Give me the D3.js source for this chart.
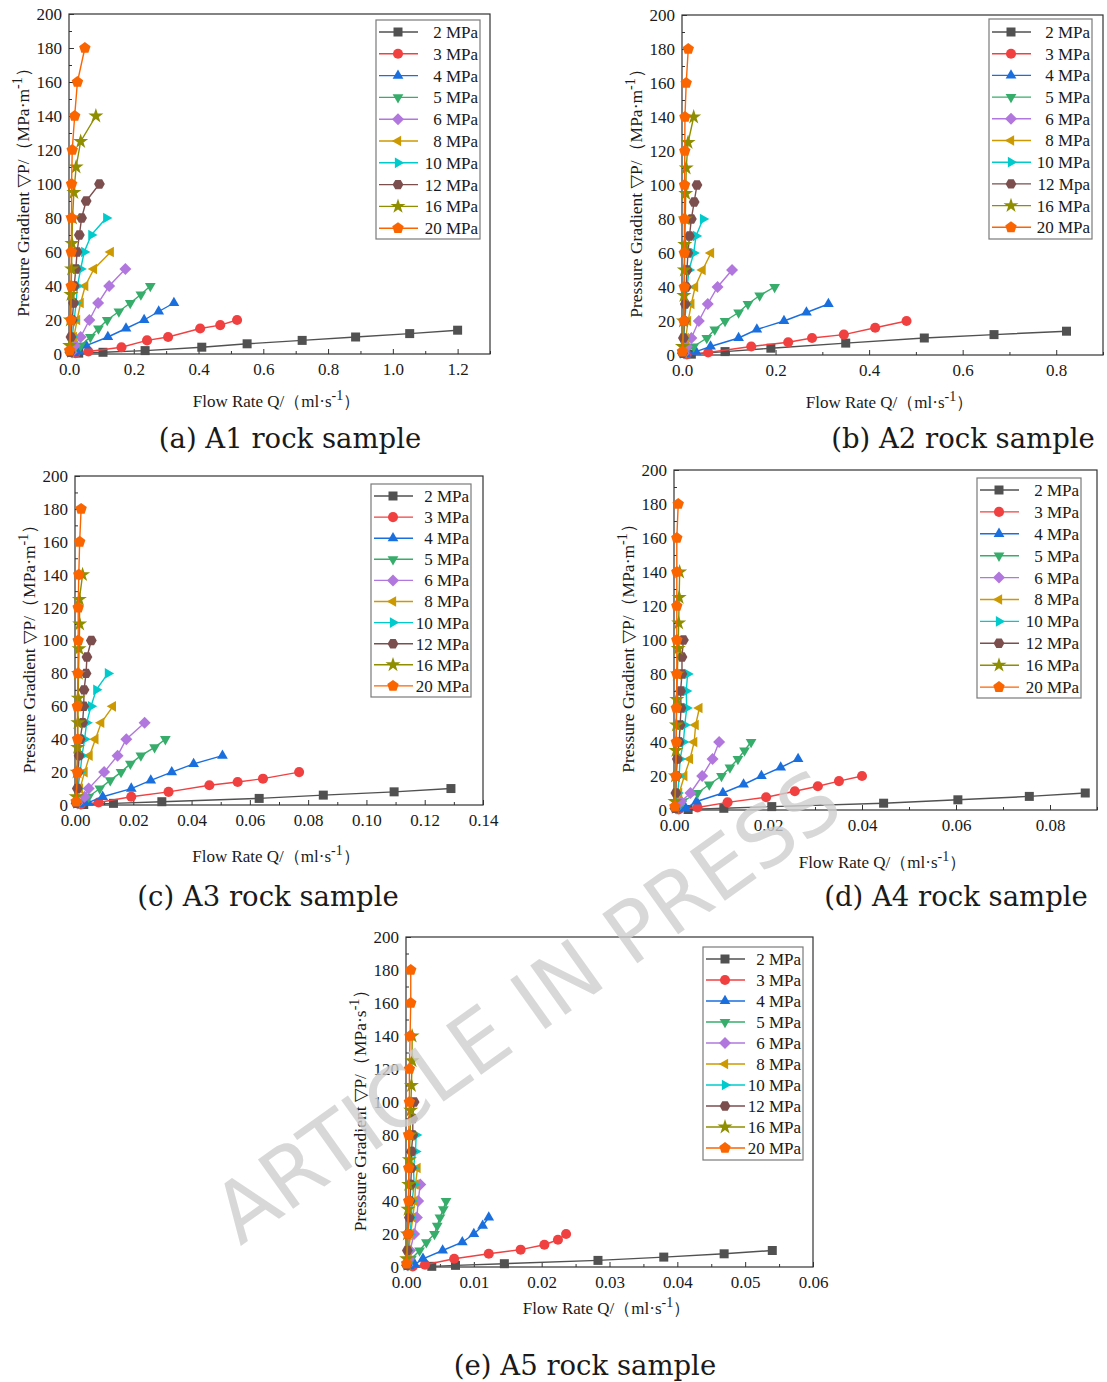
<!DOCTYPE html>
<html>
<head>
<meta charset="utf-8">
<script src="https://cdn.jsdelivr.net/npm/d3@7"></script>
<style>
  body { margin: 0; background: #fff; }
  svg { display: block; }
</style>
</head>
<body>
<svg id="fig" width="1107" height="1382"></svg>
<script>
// ---- series labels, colours, marker shapes ----
const pressureLabels = ["2 MPa", "3 MPa", "4 MPa", "5 MPa", "6 MPa", "8 MPa", "10 MPa", "12 MPa", "16 MPa", "20 MPa"];
const pressureLabelsA2 = ["2 MPa", "3 MPa", "4 MPa", "5 MPa", "6 MPa", "8 MPa", "10 MPa", "12 Mpa", "16 MPa", "20 MPa"];
const seriesColors = ["#515151", "#f14040", "#1a6fdf", "#37ad6b", "#b177de", "#cc9900", "#00cbcc", "#7d4e4e", "#8e8e00", "#fb6501"];
const markerShapes = ["square", "circle", "up", "down", "diamond", "left", "right", "hexagon", "star", "pentagon"];

// ---- tick values ----
const gradTicks = [0, 20, 40, 60, 80, 100, 120, 140, 160, 180, 200];
const flowTicksA1 = [0, 0.2, 0.4, 0.6, 0.8, 1.0, 1.2];
const flowTicksA2 = [0, 0.2, 0.4, 0.6, 0.8];
const flowTicksA3 = [0, 0.02, 0.04, 0.06, 0.08, 0.10, 0.12, 0.14];
const flowTicksA4 = [0, 0.02, 0.04, 0.06, 0.08];
const flowTicksA5 = [0, 0.01, 0.02, 0.03, 0.04, 0.05, 0.06];

// ---- A1 rock sample: flow rate Q (ml/s) and pressure gradient per confining pressure ----
const a1Flow = [
  [0.03, 0.105, 0.235, 0.41, 0.55, 0.72, 0.885, 1.052, 1.2],
  [0.02, 0.06, 0.162, 0.241, 0.306, 0.405, 0.467, 0.519],
  [0.015, 0.03, 0.053, 0.12, 0.176, 0.232, 0.277, 0.324],
  [0.01, 0.036, 0.066, 0.091, 0.118, 0.154, 0.189, 0.222, 0.251],
  [0.008, 0.018, 0.036, 0.063, 0.09, 0.124, 0.174],
  [0.005, 0.015, 0.025, 0.036, 0.05, 0.077, 0.129],
  [0.004, 0.01, 0.016, 0.022, 0.026, 0.036, 0.047, 0.069, 0.115],
  [0.003, 0.006, 0.01, 0.014, 0.016, 0.021, 0.025, 0.032, 0.039, 0.053, 0.094],
  [0.002, 0.004, 0.006, 0.008, 0.009, 0.011, 0.015, 0.022, 0.036, 0.083],
  [0.002, 0.006, 0.007, 0.007, 0.008, 0.008, 0.01, 0.0175, 0.026, 0.049]
];
const a1Grad = [
  [0.5, 1, 2, 4, 6, 8, 10, 12, 14],
  [0.5, 1.5, 4, 8, 10, 15, 17, 20],
  [0.5, 1.5, 5, 10, 15, 20, 25, 30],
  [1, 5, 10, 15, 20, 25, 30, 35, 40],
  [1, 5, 10, 20, 30, 40, 50],
  [1, 10, 20, 30, 40, 50, 60],
  [1, 10, 20, 30, 40, 50, 60, 70, 80],
  [1, 10, 20, 30, 40, 50, 60, 70, 80, 90, 100],
  [5, 20, 35, 50, 65, 80, 95, 110, 125, 140],
  [2, 20, 40, 60, 80, 100, 120, 140, 160, 180]
];

// ---- A2 rock sample ----
const a2Flow = [
  [0.02, 0.092, 0.19, 0.35, 0.518, 0.667, 0.822],
  [0.01, 0.056, 0.148, 0.227, 0.278, 0.346, 0.413, 0.48],
  [0.008, 0.03, 0.061, 0.121, 0.16, 0.218, 0.266, 0.313],
  [0.006, 0.025, 0.053, 0.07, 0.092, 0.121, 0.141, 0.166, 0.198],
  [0.004, 0.01, 0.02, 0.036, 0.055, 0.076, 0.107],
  [0.003, 0.008, 0.013, 0.02, 0.028, 0.044, 0.062],
  [0.002, 0.004, 0.006, 0.009, 0.011, 0.015, 0.025, 0.03, 0.045],
  [0.001, 0.003, 0.005, 0.007, 0.009, 0.0106, 0.0127, 0.016, 0.02, 0.026, 0.032],
  [0.001, 0.003, 0.004, 0.005, 0.006, 0.007, 0.008, 0.009, 0.013, 0.025],
  [0.001, 0.004, 0.005, 0.005, 0.005, 0.0055, 0.006, 0.0063, 0.009, 0.0134]
];
const a2Grad = [
  [0.5, 2, 4, 7, 10, 12, 14],
  [0.3, 1.5, 5, 7.5, 10, 12, 16, 20],
  [0.5, 2, 5, 10, 15, 20, 25, 30],
  [1, 5, 10, 15, 20, 25, 30, 35, 40],
  [1, 5, 10, 20, 30, 40, 50],
  [1, 10, 20, 30, 40, 50, 60],
  [1, 10, 20, 30, 40, 50, 60, 70, 80],
  [1, 10, 20, 30, 40, 50, 60, 70, 80, 90, 100],
  [5, 20, 35, 50, 65, 80, 95, 110, 125, 140],
  [2, 20, 40, 60, 80, 100, 120, 140, 160, 180]
];

// ---- A3 rock sample ----
const a3Flow = [
  [0.003, 0.0132, 0.0298, 0.0632, 0.0852, 0.1095, 0.129],
  [0.002, 0.0081, 0.0193, 0.0321, 0.0461, 0.0558, 0.0645, 0.0769],
  [0.0015, 0.0045, 0.0095, 0.0193, 0.026, 0.0332, 0.0407, 0.0506],
  [0.001, 0.0047, 0.0085, 0.0121, 0.0158, 0.019, 0.0226, 0.0273, 0.031],
  [0.0008, 0.0033, 0.0047, 0.01, 0.0146, 0.0176, 0.0239],
  [0.0006, 0.0017, 0.0033, 0.005, 0.007, 0.009, 0.013],
  [0.0005, 0.001, 0.0018, 0.0024, 0.0033, 0.004, 0.0055, 0.0073, 0.0113],
  [0.0004, 0.0008, 0.0011, 0.0014, 0.0018, 0.0026, 0.003, 0.0031, 0.0038, 0.0041, 0.0056],
  [0.0004, 0.0007, 0.0009, 0.001, 0.0011, 0.0012, 0.0014, 0.0016, 0.0015, 0.0026],
  [0.0004, 0.0008, 0.0009, 0.0008, 0.001, 0.0011, 0.0011, 0.0013, 0.0016, 0.0021]
];
const a3Grad = [
  [0.3, 1, 2, 4, 6, 8, 10],
  [0.3, 1.5, 5, 8, 12, 14, 16, 20],
  [0.5, 1.5, 5, 10, 15, 20, 25, 30],
  [1, 5, 10, 15, 20, 25, 30, 35, 40],
  [1, 5, 10, 20, 30, 40, 50],
  [1, 10, 20, 30, 40, 50, 60],
  [1, 10, 20, 30, 40, 50, 60, 70, 80],
  [1, 10, 20, 30, 40, 50, 60, 70, 80, 90, 100],
  [5, 20, 35, 50, 65, 80, 95, 110, 125, 140],
  [2, 20, 40, 60, 80, 100, 120, 140, 160, 180]
];

// ---- A4 rock sample ----
const a4Flow = [
  [0.003, 0.0106, 0.0208, 0.0446, 0.0604, 0.0756, 0.0875],
  [0.001, 0.005, 0.0114, 0.0196, 0.0257, 0.0306, 0.0351, 0.04],
  [0.0008, 0.0025, 0.0048, 0.0104, 0.0148, 0.0186, 0.0227, 0.0264],
  [0.0005, 0.0018, 0.005, 0.0075, 0.0101, 0.0119, 0.0136, 0.015, 0.0164],
  [0.0004, 0.0015, 0.0035, 0.006, 0.0082, 0.0096],
  [0.0003, 0.0011, 0.0022, 0.0034, 0.0043, 0.0046, 0.0054],
  [0.0002, 0.0008, 0.0011, 0.0013, 0.002, 0.0023, 0.0027, 0.0026, 0.0029],
  [0.0002, 0.0004, 0.0005, 0.0007, 0.0011, 0.0013, 0.0015, 0.0014, 0.0017, 0.0017, 0.002],
  [0.0002, 0.0003, 0.0004, 0.0005, 0.0006, 0.0007, 0.0009, 0.001, 0.0011, 0.0012],
  [0.0002, 0.0004, 0.0005, 0.0005, 0.0006, 0.0006, 0.0006, 0.0006, 0.0006, 0.0009]
];
const a4Grad = [
  [0.3, 1, 2, 4, 6, 8, 10],
  [0.3, 1.5, 4.5, 7.5, 11, 14, 17, 20],
  [0.5, 1, 5, 10, 15, 20, 25, 30],
  [1, 5, 10, 15, 20, 25, 30, 35, 40],
  [1, 5, 10, 20, 30, 40],
  [1, 10, 20, 30, 40, 50, 60],
  [1, 10, 20, 30, 40, 50, 60, 70, 80],
  [1, 10, 20, 30, 40, 50, 60, 70, 80, 90, 100],
  [5, 20, 35, 50, 65, 80, 95, 110, 125, 140],
  [2, 20, 40, 60, 80, 100, 120, 140, 160, 180]
];

// ---- A5 rock sample ----
const a5Flow = [
  [0.0038, 0.0073, 0.0145, 0.0283, 0.038, 0.0469, 0.054],
  [0.001, 0.0028, 0.0071, 0.0122, 0.0169, 0.0204, 0.0224, 0.0236],
  [0.0005, 0.0013, 0.0025, 0.0054, 0.0083, 0.01, 0.0113, 0.0122],
  [0.0003, 0.0008, 0.002, 0.003, 0.0042, 0.0046, 0.005, 0.0055, 0.0059],
  [0.0002, 0.0004, 0.0006, 0.0012, 0.0016, 0.0018, 0.0021],
  [0.0002, 0.0004, 0.0007, 0.001, 0.0013, 0.0014, 0.0017],
  [0.0001, 0.0003, 0.0006, 0.0008, 0.0009, 0.0012, 0.0011, 0.0014, 0.0015],
  [0.0001, 0.0002, 0.0003, 0.0005, 0.0006, 0.0007, 0.0008, 0.0008, 0.001, 0.001, 0.0012],
  [0.0001, 0.0002, 0.0003, 0.0004, 0.0005, 0.0006, 0.0007, 0.0008, 0.0009, 0.0009],
  [0.0001, 0.0003, 0.0004, 0.0004, 0.0004, 0.0005, 0.0005, 0.0006, 0.0007, 0.0007]
];
const a5Grad = [
  [0.4, 1, 2, 4, 6, 8, 10],
  [0.3, 1.4, 5, 8, 10.5, 13.5, 16.5, 20],
  [0.5, 1.5, 5, 10, 15, 20, 25, 30],
  [1, 5, 10, 15, 20, 25, 30, 35, 40],
  [1, 5, 10, 20, 30, 40, 50],
  [1, 10, 20, 30, 40, 50, 60],
  [1, 10, 20, 30, 40, 50, 60, 70, 80],
  [1, 10, 20, 30, 40, 50, 60, 70, 80, 90, 100],
  [5, 20, 35, 50, 65, 80, 95, 110, 125, 140],
  [2, 20, 40, 60, 80, 100, 120, 140, 160, 180]
];

// ---- panel layout ----
const panels = [
  { box: [69, 490, 14, 354], xMax: 1.3, ticks: flowTicksA1, minorStep: 0.1, fmt: ".1f",
    flow: a1Flow, grad: a1Grad, labels: pressureLabels, unit: "m", xTitleY: 401,
    legend: [376, 20, 104, 219, 32, 21.8], caption: "(a) A1 rock sample", capX: 290, capY: 448 },
  { box: [682, 1103, 15, 355], xMax: 0.9, ticks: flowTicksA2, minorStep: 0.1, fmt: ".1f",
    flow: a2Flow, grad: a2Grad, labels: pressureLabelsA2, unit: "m", xTitleY: 402,
    legend: [989, 19, 103, 220, 32, 21.7], caption: "(b) A2 rock sample", capX: 963, capY: 448 },
  { box: [75, 483, 476, 805], xMax: 0.14, ticks: flowTicksA3, minorStep: 0.01, fmt: ".2f",
    flow: a3Flow, grad: a3Grad, labels: pressureLabels, unit: "m", xTitleY: 856,
    legend: [371, 484, 100, 213, 496, 21.1], caption: "(c) A3 rock sample", capX: 268, capY: 906 },
  { box: [674, 1097, 470, 810], xMax: 0.09, ticks: flowTicksA4, minorStep: 0.01, fmt: ".2f",
    flow: a4Flow, grad: a4Grad, labels: pressureLabels, unit: "m", xTitleY: 862,
    legend: [977, 478, 104, 220, 490, 21.9], caption: "(d) A4 rock sample", capX: 956, capY: 906 },
  { box: [406, 813, 937, 1267], xMax: 0.06, ticks: flowTicksA5, minorStep: 0.005, fmt: ".2f",
    flow: a5Flow, grad: a5Grad, labels: pressureLabels, unit: "s", xTitleY: 1308,
    legend: [703, 947, 100, 213, 959, 21], caption: "(e) A5 rock sample", capX: 585, capY: 1375 }
];

const svg = d3.select("#fig");
const serif = "'Liberation Serif', 'Times New Roman', 'DejaVu Serif', serif";

// polygon-based marker paths
function polygon(n, r, rot) {
  const pts = d3.range(n).map(i => {
    const a = rot + i * 2 * Math.PI / n;
    return [r * Math.cos(a), r * Math.sin(a)];
  });
  return "M" + pts.map(p => p[0].toFixed(2) + "," + p[1].toFixed(2)).join("L") + "Z";
}
function markerPath(shape) {
  switch (shape) {
    case "square": return "M-4.5,-4.5H4.5V4.5H-4.5Z";
    case "circle": return d3.symbol(d3.symbolCircle, 80)();
    case "up": return polygon(3, 6.2, -Math.PI / 2);
    case "down": return polygon(3, 6.2, Math.PI / 2);
    case "left": return polygon(3, 6.2, Math.PI);
    case "right": return polygon(3, 6.2, 0);
    case "diamond": return "M0,-6L6,0L0,6L-6,0Z";
    case "hexagon": return polygon(6, 5.4, 0);
    case "star": return d3.symbol(d3.symbolStar, 70)();
    case "pentagon": return polygon(5, 6, -Math.PI / 2);
  }
}

function drawPanel(p) {
  const [L, R, T, B] = p.box;
  const x = d3.scaleLinear().domain([0, p.xMax]).range([L, R]);
  const y = d3.scaleLinear().domain([0, 200]).range([B, T]);
  const g = svg.append("g");

  // minor ticks (inward)
  const minorX = d3.range(0, p.xMax + 1e-9, p.minorStep).filter(v => !p.ticks.some(t => Math.abs(t - v) < 1e-9));
  g.append("g").attr("transform", `translate(0,${B})`)
    .call(d3.axisBottom(x).tickValues(minorX).tickSize(-3).tickFormat(""))
    .call(a => a.select(".domain").remove());
  g.append("g").attr("transform", `translate(${L},0)`)
    .call(d3.axisLeft(y).tickValues(d3.range(10, 200, 20)).tickSize(-3).tickFormat(""))
    .call(a => a.select(".domain").remove());

  // major ticks with labels
  const xa = g.append("g").attr("transform", `translate(0,${B})`)
    .call(d3.axisBottom(x).tickValues(p.ticks).tickSize(-5).tickPadding(9).tickFormat(d3.format(p.fmt)));
  const ya = g.append("g").attr("transform", `translate(${L},0)`)
    .call(d3.axisLeft(y).tickValues(gradTicks).tickSize(-5).tickPadding(7).tickFormat(d3.format("d")));
  [xa, ya].forEach(a => {
    a.select(".domain").remove();
    a.selectAll("text").attr("font-family", serif).attr("font-size", 17).attr("fill", "#1a1a1a");
  });
  g.selectAll(".tick line").attr("stroke", "#333").attr("stroke-width", 1);

  // frame
  g.append("rect").attr("x", L).attr("y", T).attr("width", R - L).attr("height", B - T)
    .attr("fill", "none").attr("stroke", "#333").attr("stroke-width", 1.2);

  // series lines and markers
  const line = d3.line().x(d => x(d[0])).y(d => y(d[1]));
  p.flow.forEach((qs, i) => {
    const pts = qs.map((q, j) => [q, p.grad[i][j]]);
    g.append("path").datum(pts).attr("d", line)
      .attr("fill", "none").attr("stroke", seriesColors[i]).attr("stroke-width", 1.4);
    g.append("g").selectAll("path").data(pts).join("path")
      .attr("transform", d => `translate(${x(d[0])},${y(d[1])})`)
      .attr("d", markerPath(markerShapes[i]))
      .attr("fill", seriesColors[i]);
  });

  // legend
  const [lx, ly, lw, lh, row0, step] = p.legend;
  const lg = g.append("g");
  lg.append("rect").attr("x", lx).attr("y", ly).attr("width", lw).attr("height", lh)
    .attr("fill", "#fff").attr("stroke", "#7a7a7a").attr("stroke-width", 1.2);
  p.labels.forEach((lab, i) => {
    const yy = row0 + i * step;
    lg.append("line").attr("x1", lx + 3).attr("x2", lx + 42).attr("y1", yy).attr("y2", yy)
      .attr("stroke", seriesColors[i]).attr("stroke-width", 1.4);
    lg.append("path").attr("transform", `translate(${lx + 22},${yy})`)
      .attr("d", markerPath(markerShapes[i])).attr("fill", seriesColors[i]);
    lg.append("text").attr("x", lx + lw - 2).attr("y", yy).attr("dy", "0.35em")
      .attr("text-anchor", "end").attr("font-family", serif).attr("font-size", 17)
      .attr("fill", "#1a1a1a").text(lab);
  });

  // axis titles
  const xt = g.append("text").attr("x", (L + R) / 2 - 3).attr("y", p.xTitleY).attr("dy", "0.35em")
    .attr("text-anchor", "middle").attr("font-family", serif).attr("font-size", 17).attr("fill", "#1a1a1a");
  xt.append("tspan").text("Flow Rate Q/（ml·s");
  xt.append("tspan").attr("dy", -7).attr("font-size", 14).text("-1");
  xt.append("tspan").attr("dy", 7).text("）");

  const cy = (T + B) / 2 + 4;
  const yt = g.append("text").attr("transform", `translate(${L - 46},${cy}) rotate(-90)`)
    .attr("dy", "0.35em").attr("text-anchor", "middle").attr("font-family", serif)
    .attr("font-size", 17.5).attr("fill", "#1a1a1a");
  yt.append("tspan").text(`Pressure Gradient ▽P/（MPa·${p.unit}`);
  yt.append("tspan").attr("dy", -7).attr("font-size", 14).text("-1");
  yt.append("tspan").attr("dy", 7).text("）");

  // caption
  svg.append("text").attr("x", p.capX).attr("y", p.capY).attr("text-anchor", "middle")
    .attr("font-family", "'DejaVu Serif', serif").attr("font-size", 27.5).attr("fill", "#1a1a1a")
    .text(p.caption);
}

panels.forEach(drawPanel);

// diagonal stamp across the lower half of the figure
svg.append("text")
  .attr("transform", "translate(527,1007) rotate(-35.5)")
  .attr("text-anchor", "middle").attr("dominant-baseline", "central")
  .attr("font-family", "'DejaVu Sans', sans-serif").attr("font-size", 83)
  .attr("fill", "#cfcfcf").attr("opacity", 0.8)
  .text("ARTICLE IN PRESS");
</script>
</body>
</html>
